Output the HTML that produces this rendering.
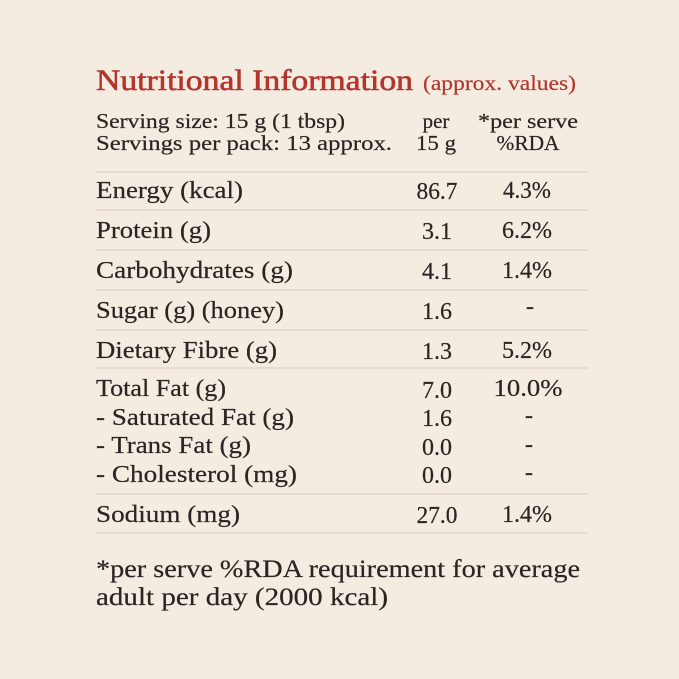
<!DOCTYPE html>
<html><head><style>
html,body{margin:0;padding:0;background:#f4ebe1;}
svg{display:block}
text{font-family:"Liberation Serif",serif;fill:#2a2522;stroke:#2a2522;stroke-width:0.2;}
</style></head><body>
<svg width="679" height="679" viewBox="0 0 679 679">
<rect width="679" height="679" fill="#f4ebe1"/>
<text x="96" y="90" font-size="30" style="fill:#b3352b;stroke:#b3352b;stroke-width:0.6" textLength="317" lengthAdjust="spacingAndGlyphs">Nutritional Information</text>
<text x="423" y="90" font-size="21" style="fill:#b3352b;stroke:#b3352b" textLength="153" lengthAdjust="spacingAndGlyphs">(approx. values)</text>
<g font-size="21">
<text x="96" y="128" textLength="249" lengthAdjust="spacingAndGlyphs">Serving size: 15 g (1 tbsp)</text>
<text x="96" y="150" textLength="296" lengthAdjust="spacingAndGlyphs">Servings per pack: 13 approx.</text>
<text x="436" y="128" text-anchor="middle">per</text>
<text x="436" y="150" text-anchor="middle" textLength="40" lengthAdjust="spacingAndGlyphs">15 g</text>
<text x="528" y="128" text-anchor="middle" textLength="100" lengthAdjust="spacingAndGlyphs">*per serve</text>
<text x="528" y="150" text-anchor="middle" textLength="63" lengthAdjust="spacingAndGlyphs">%RDA</text>
</g>
<g stroke="#ddd2c6" stroke-width="1.2">
<line x1="96" y1="172" x2="588" y2="172"/>
<line x1="96" y1="210" x2="588" y2="210"/>
<line x1="96" y1="250" x2="588" y2="250"/>
<line x1="96" y1="290" x2="588" y2="290"/>
<line x1="96" y1="330" x2="588" y2="330"/>
<line x1="96" y1="368" x2="588" y2="368"/>
<line x1="96" y1="494" x2="588" y2="494"/>
<line x1="96" y1="533" x2="588" y2="533"/>
</g>
<g font-size="24">
<text x="96" y="198" textLength="147" lengthAdjust="spacingAndGlyphs">Energy (kcal)</text>
<text x="437" y="199" text-anchor="middle" textLength="41" lengthAdjust="spacingAndGlyphs">86.7</text><text x="527" y="198" text-anchor="middle" textLength="48" lengthAdjust="spacingAndGlyphs">4.3%</text>
<text x="96" y="238" textLength="115" lengthAdjust="spacingAndGlyphs">Protein (g)</text>
<text x="437" y="239" text-anchor="middle">3.1</text><text x="527" y="238" text-anchor="middle" textLength="50" lengthAdjust="spacingAndGlyphs">6.2%</text>
<text x="96" y="278" textLength="197" lengthAdjust="spacingAndGlyphs">Carbohydrates (g)</text>
<text x="437" y="279" text-anchor="middle">4.1</text><text x="527" y="278" text-anchor="middle" textLength="50" lengthAdjust="spacingAndGlyphs">1.4%</text>
<text x="96" y="318" textLength="188" lengthAdjust="spacingAndGlyphs">Sugar (g) (honey)</text>
<text x="437" y="319" text-anchor="middle">1.6</text><text x="530" y="314" text-anchor="middle">-</text>
<text x="96" y="358" textLength="181" lengthAdjust="spacingAndGlyphs">Dietary Fibre (g)</text>
<text x="437" y="359" text-anchor="middle">1.3</text><text x="527" y="358" text-anchor="middle" textLength="50" lengthAdjust="spacingAndGlyphs">5.2%</text>
<text x="96" y="396" textLength="130" lengthAdjust="spacingAndGlyphs">Total Fat (g)</text>
<text x="437" y="398" text-anchor="middle">7.0</text><text x="528" y="396" text-anchor="middle" textLength="69" lengthAdjust="spacingAndGlyphs">10.0%</text>
<text x="96" y="425" textLength="198" lengthAdjust="spacingAndGlyphs">- Saturated Fat (g)</text>
<text x="437" y="426" text-anchor="middle">1.6</text><text x="529" y="423" text-anchor="middle">-</text>
<text x="96" y="453" textLength="155" lengthAdjust="spacingAndGlyphs">- Trans Fat (g)</text>
<text x="437" y="455" text-anchor="middle">0.0</text><text x="529" y="452" text-anchor="middle">-</text>
<text x="96" y="482" textLength="201" lengthAdjust="spacingAndGlyphs">- Cholesterol (mg)</text>
<text x="437" y="483" text-anchor="middle">0.0</text><text x="529" y="480" text-anchor="middle">-</text>
<text x="96" y="522" textLength="144" lengthAdjust="spacingAndGlyphs">Sodium (mg)</text>
<text x="437" y="523" text-anchor="middle" textLength="41" lengthAdjust="spacingAndGlyphs">27.0</text><text x="527" y="522" text-anchor="middle" textLength="50" lengthAdjust="spacingAndGlyphs">1.4%</text>
</g>
<g font-size="25">
<text x="96" y="577" textLength="484" lengthAdjust="spacingAndGlyphs">*per serve %RDA requirement for average</text>
<text x="96" y="605" textLength="292" lengthAdjust="spacingAndGlyphs">adult per day (2000 kcal)</text>
</g>
</svg>
</body></html>
